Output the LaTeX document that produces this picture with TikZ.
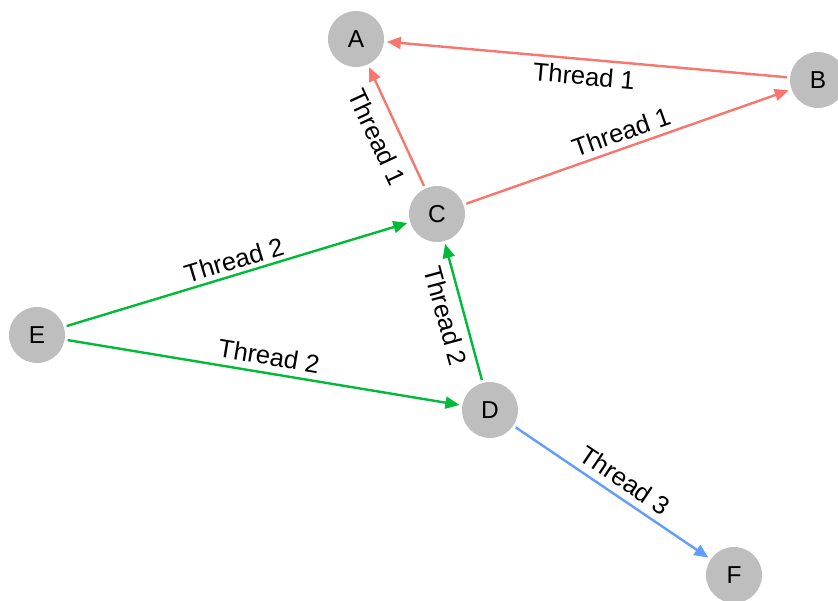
\documentclass[tikz,border=0pt]{standalone}
\usepackage{fontspec}
\setmainfont{Liberation Sans}
\usetikzlibrary{arrows.meta}
\definecolor{tred}{HTML}{F8766D}
\definecolor{tgreen}{HTML}{00BA38}
\definecolor{tblue}{HTML}{619CFF}
\definecolor{vgrey}{HTML}{BEBEBE}
\tikzset{
  vert/.style={circle, fill=vgrey, draw=none, minimum size=56pt, inner sep=0pt, outer sep=0pt, font=\fontsize{24.5}{28}\selectfont},
  conn/.style={line width=2.4pt, -{Triangle[length=14pt,width=12pt]}, shorten >=3pt, shorten <=3pt},
  lab/.style={inner sep=0pt, font=\fontsize{25.5}{28}\selectfont}
}
\begin{document}
\begin{tikzpicture}[x=1pt,y=-1pt]
\useasboundingbox (0,0) rectangle (838,600);
\clip (0,0) rectangle (838,600);
\node[vert] (A) at (356,39) {A};
\node[vert] (B) at (818,80) {B};
\node[vert] (C) at (437,214) {C};
\node[vert] (D) at (490,410) {D};
\node[vert] (E) at (37,335) {E};
\node[vert] (F) at (734,575) {F};
\draw[conn, tred] (B) -- (A);
\draw[conn, tred] (C) -- (A);
\draw[conn, tred] (C) -- (B);
\draw[conn, tgreen] (E) -- (C);
\draw[conn, tgreen] (E) -- (D);
\draw[conn, tgreen] (D) -- (C);
\draw[conn, tblue] (D) -- (F);
\node[lab, rotate=-5.06] (lBA) at (584,76) {Thread 1};
\node[lab, rotate=-65] (lCA) at (377,137) {Thread 1};
\node[lab, rotate=19.5] (lCB) at (621,132) {Thread 1};
\node[lab, rotate=16.7] (lEC) at (234,260) {Thread 2};
\node[lab, rotate=-9.4] (lED) at (269,356) {Thread 2};
\node[lab, rotate=-74.8] (lDC) at (446,316) {Thread 2};
\node[lab, rotate=-33.9] (lDF) at (625,480) {Thread 3};
\end{tikzpicture}
\end{document}
